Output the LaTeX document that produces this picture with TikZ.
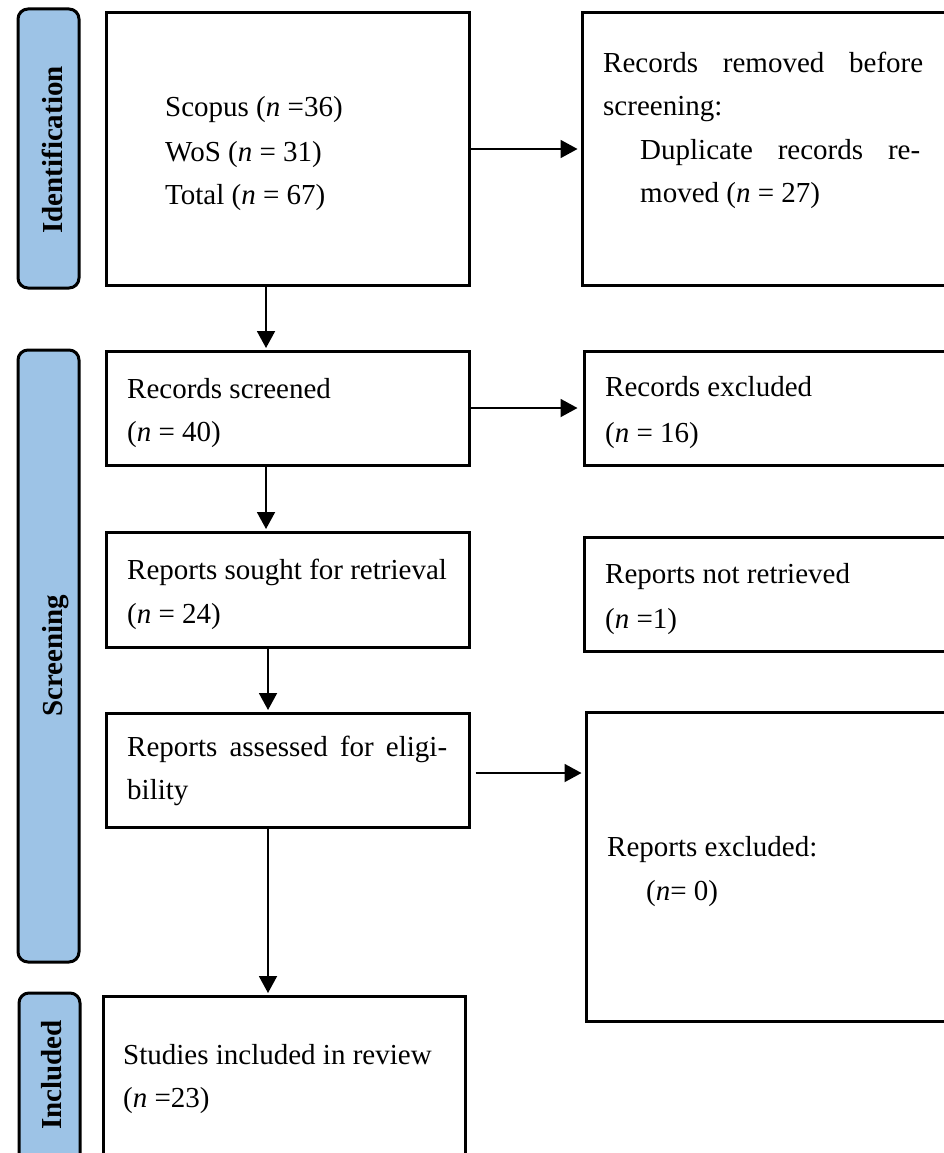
\documentclass[tikz,border=0pt]{standalone}
\usepackage{fontspec}
\setmainfont{Liberation Serif}
\usetikzlibrary{arrows.meta}
\definecolor{barblue}{RGB}{157,195,230}
\begin{document}
\begin{tikzpicture}[x=1pt,y=-1pt,
  box/.style={draw, line width=3pt, rectangle, inner sep=0pt},
  bar/.style={draw, line width=3pt, rounded corners=10pt, fill=barblue, inner sep=0pt, minimum width=61pt},
  lbl/.style={font=\fontsize{29}{32}\selectfont\bfseries, rotate=90, inner sep=0pt, anchor=base},
  txt/.style={font=\fontsize{29}{32}\selectfont, anchor=base west, inner sep=0pt},
  arr/.style={-{Triangle[length=17pt,width=18pt]}, line width=1.9pt}]
\useasboundingbox (0,0) rectangle (944,1153);
\clip (0,0) rectangle (944,1153);
% phase bars
\node[bar, minimum height=279pt] (idbar) at (48.5,148.5) {};
\node[bar, minimum height=612pt] (scrbar) at (48.5,656) {};
\node[bar, minimum height=187pt] (inclbar) at (49.5,1086.5) {};
\node[lbl] (idlbl) at (62,150) {Identification};
\node[lbl] (scrlbl) at (62,656) {Screening};
\node[lbl] (incllbl) at (61,1075) {Included};
% boxes
\node[box, minimum width=363pt, minimum height=272pt] (idbox) at (287.5,149) {};
\node[box, minimum width=418pt, minimum height=272pt] (rembox) at (791,149) {};
\node[box, minimum width=363pt, minimum height=114pt] (scrbox) at (287.5,408) {};
\node[box, minimum width=416pt, minimum height=114pt] (exclbox) at (792,408) {};
\node[box, minimum width=363pt, minimum height=115pt] (soughtbox) at (287.5,589.5) {};
\node[box, minimum width=416pt, minimum height=114pt] (notretbox) at (792,594) {};
\node[box, minimum width=363pt, minimum height=114pt] (assbox) at (287.5,770) {};
\node[box, minimum width=414pt, minimum height=309pt] (repexbox) at (793,866.5) {};
\node[box, minimum width=362pt, minimum height=184pt] (inclbox) at (284,1088) {};
% texts
\node[txt] (t1) at (165,117) {Scopus (\textit{n} =36)};
\node[txt] (t2) at (165,161) {WoS (\textit{n} = 31)};
\node[txt] (t3) at (165,204) {Total (\textit{n} = 67)};
\node[txt] (t4) at (603,73) {\makebox[320pt][s]{Records removed before}};
\node[txt] (t5) at (603,116) {screening:};
\node[txt] (t6) at (640,159) {\makebox[280pt][s]{Duplicate records re-}};
\node[txt] (t7) at (640,202) {moved (\textit{n} = 27)};
\node[txt] (t8) at (127,398) {Records screened};
\node[txt] (t9) at (127,441) {(\textit{n} = 40)};
\node[txt] (t10) at (605,396) {Records excluded};
\node[txt] (t11) at (605,442) {(\textit{n} = 16)};
\node[txt] (t12) at (127,579) {Reports sought for retrieval};
\node[txt] (t13) at (127,623) {(\textit{n} = 24)};
\node[txt] (t14) at (605,583) {Reports not retrieved};
\node[txt] (t15) at (605,628) {(\textit{n} =1)};
\node[txt] (t16) at (127,756) {\makebox[320pt][s]{Reports assessed for eligi-}};
\node[txt] (t17) at (127,799) {bility};
\node[txt] (t18) at (607,856) {Reports excluded:};
\node[txt] (t19) at (646,900) {(\textit{n}= 0)};
\node[txt] (t20) at (123,1064) {Studies included in review};
\node[txt] (t21) at (123,1107) {(\textit{n} =23)};
% connectors
\draw[arr, shorten >=3pt] (idbox.east) -- (rembox.west);
\draw[arr, shorten >=5pt] (scrbox.east) -- (exclbox.west);
\draw[arr, shorten <=5pt, shorten >=3pt] ([yshift=-3pt]assbox.east) -- ([yshift=-3pt]assbox.east -| repexbox.west);
\draw[arr, shorten >=1.5pt] ([xshift=-21.5pt]idbox.south) -- ([xshift=-21.5pt]scrbox.north);
\draw[arr, shorten >=1.5pt] ([xshift=-21.5pt]scrbox.south) -- ([xshift=-21.5pt]soughtbox.north);
\draw[arr, shorten >=1.5pt] ([xshift=-19.5pt]soughtbox.south) -- ([xshift=-19.5pt]assbox.north);
\draw[arr, shorten >=1.5pt] ([xshift=-19.5pt]assbox.south) -- ([xshift=-16pt]inclbox.north);
\end{tikzpicture}
\end{document}
